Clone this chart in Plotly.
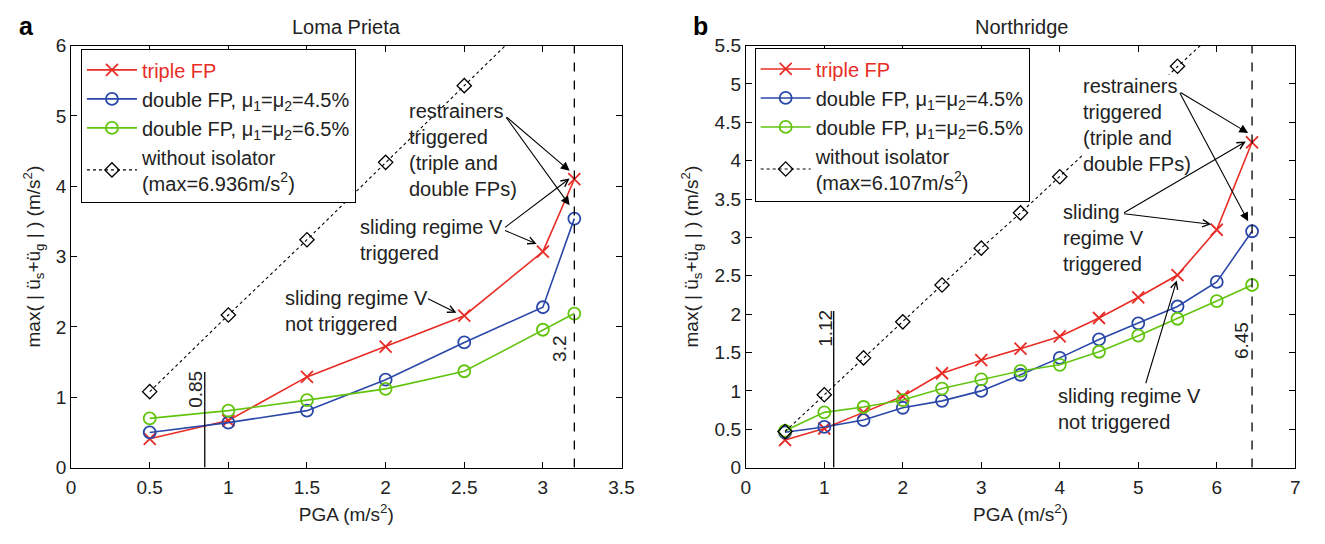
import plotly.graph_objects as go

# ---------------- data ----------------
pga_a = [0.5, 1.0, 1.5, 2.0, 2.5, 3.0, 3.2]
triple_a = [0.41, 0.67, 1.29, 1.72, 2.16, 3.07, 4.10]
double45_a = [0.50, 0.64, 0.81, 1.25, 1.78, 2.28, 3.54]
double65_a = [0.70, 0.81, 0.96, 1.12, 1.37, 1.96, 2.19]
noiso_a = [1.08, 2.17, 3.24, 4.34, 5.43, 6.52, 6.936]

pga_b = [0.5, 1.0, 1.5, 2.0, 2.5, 3.0, 3.5, 4.0, 4.5, 5.0, 5.5, 6.0, 6.45]
triple_b = [0.36, 0.51, 0.72, 0.93, 1.23, 1.40, 1.55, 1.71, 1.95, 2.22, 2.51, 3.10, 4.24]
double45_b = [0.46, 0.53, 0.62, 0.78, 0.87, 1.00, 1.21, 1.43, 1.67, 1.88, 2.10, 2.42, 3.08]
double65_b = [0.48, 0.72, 0.79, 0.88, 1.03, 1.15, 1.26, 1.34, 1.51, 1.72, 1.94, 2.17, 2.38]
noiso_b = [0.47, 0.95, 1.43, 1.90, 2.38, 2.86, 3.32, 3.79, 4.27, 4.75, 5.23, 5.70, 6.107]

threshold_a = [0.85, 3.2]
threshold_b = [1.12, 6.45]
threshold_a_height = 1.36
threshold_b_height = 2.04

xticks_a = [0, 0.5, 1, 1.5, 2, 2.5, 3, 3.5]
yticks_a = [0, 1, 2, 3, 4, 5, 6]
xticks_b = [0, 1, 2, 3, 4, 5, 6, 7]
yticks_b = [0, 0.5, 1, 1.5, 2, 2.5, 3, 3.5, 4, 4.5, 5, 5.5]

# ---------------- style ----------------
RED = "rgb(232,45,38)"
BLUE = "rgb(42,72,168)"
GREEN = "rgb(98,196,14)"
FONT = "Liberation Sans, Arial, sans-serif"
TXT = "#222222"
FS = 20
FT = 19
W, H = 1325, 544

names = ["<span style='color:%s'>triple FP</span>" % RED,
         "double FP, \u03bc<sub>1</sub>=\u03bc<sub>2</sub>=4.5%",
         "double FP, \u03bc<sub>1</sub>=\u03bc<sub>2</sub>=6.5%"]
noiso_name_a = "without isolator<br>(max=6.936m/s<sup>2</sup>)"
noiso_name_b = "without isolator<br>(max=6.107m/s<sup>2</sup>)"

fig = go.Figure()


def add_series(x, ys, noiso, noiso_name, xa, ya, legend):
    styles = [(RED, "x-thin-open", 12), (BLUE, "circle-open", 12), (GREEN, "circle-open", 12)]
    for (c, sym, sz), y, nm in zip(styles, ys, names):
        fig.add_trace(go.Scatter(
            x=x, y=y, name=nm, mode="lines+markers",
            line=dict(color=c, width=1.6),
            marker=dict(symbol=sym, size=sz, color=c, line=dict(color=c, width=1.8)),
            xaxis=xa, yaxis=ya, legend=legend, cliponaxis=True))
    fig.add_trace(go.Scatter(
        x=x, y=noiso, name=noiso_name, mode="lines+markers",
        line=dict(color="black", width=1.1, dash="dot"),
        marker=dict(symbol="diamond-open", size=11, color="black", line=dict(color="black", width=1.3)),
        xaxis=xa, yaxis=ya, legend=legend, cliponaxis=True))


add_series(pga_a, [triple_a, double45_a, double65_a], noiso_a, noiso_name_a, "x", "y", "legend")
add_series(pga_b, [triple_b, double45_b, double65_b], noiso_b, noiso_name_b, "x2", "y2", "legend2")

# threshold lines
fig.add_shape(type="line", x0=threshold_a[0], x1=threshold_a[0], y0=0, y1=threshold_a_height,
              xref="x", yref="y", line=dict(color="black", width=1.3))
fig.add_shape(type="line", x0=threshold_a[1], x1=threshold_a[1], y0=0, y1=6,
              xref="x", yref="y", line=dict(color="black", width=1.3, dash="dash"))
fig.add_shape(type="line", x0=threshold_b[0], x1=threshold_b[0], y0=0, y1=threshold_b_height,
              xref="x2", yref="y2", line=dict(color="black", width=1.3))
fig.add_shape(type="line", x0=threshold_b[1], x1=threshold_b[1], y0=0, y1=5.5,
              xref="x2", yref="y2", line=dict(color="black", width=1.3, dash="dash"))

ann = []


def label(text, x, y, xr, yr, angle=0, xanchor="left", yanchor="middle", bg=None, pad=0, size=FS):
    d = dict(text=text, x=x, y=y, xref=xr, yref=yr, showarrow=False, textangle=angle,
             xanchor=xanchor, yanchor=yanchor, align="left",
             font=dict(family=FONT, size=size, color=TXT), borderpad=pad)
    if bg:
        d["bgcolor"] = bg
    ann.append(d)


def arrow(tail, head, xr, yr, head_style):
    ann.append(dict(text="", x=head[0], y=head[1], ax=tail[0], ay=tail[1],
                    xref=xr, yref=yr, axref=xr, ayref=yr, showarrow=True,
                    arrowhead=head_style, arrowsize=1.6 if head_style == 2 else 1.3,
                    arrowwidth=1.1, arrowcolor="black", standoff=0, startstandoff=0))


# threshold labels
label(str(threshold_a[0]), 0.79, 1.11, "x", "y", angle=-90, xanchor="center", size=FT)
label(str(threshold_a[1]), 3.11, 1.69, "x", "y", angle=-90, xanchor="center", size=FT)
label(str(threshold_b[0]), 1.02, 1.82, "x2", "y2", angle=-90, xanchor="center", size=FT)
label(str(threshold_b[1]), 6.31, 1.65, "x2", "y2", angle=-90, xanchor="center", size=FT)

# panel a annotations
label("restrainers<br>triggered<br>(triple and<br>double FPs)", 2.14, 4.52, "x", "y")
label("sliding regime V<br>triggered", 1.83, 3.23, "x", "y")
label("sliding regime V<br>not triggered", 1.355, 2.23, "x", "y")
arrow((2.76, 5.00), (3.17, 4.22), "x", "y", 2)
arrow((2.76, 5.00), (3.17, 3.73), "x", "y", 2)
arrow((2.75, 3.40), (3.17, 4.11), "x", "y", 5)
arrow((2.75, 3.38), (2.96, 3.18), "x", "y", 5)
arrow((2.26, 2.41), (2.45, 2.20), "x", "y", 5)

# panel b annotations
label("restrainers<br>triggered<br>(triple and<br>double FPs)", 4.28, 4.47, "x2", "y2", bg="white", pad=0)
label("sliding<br>regime V<br>triggered", 4.03, 2.99, "x2", "y2")
label("sliding regime V<br>not triggered", 3.96, 0.76, "x2", "y2")
arrow((5.52, 4.90), (6.40, 4.36), "x2", "y2", 2)
arrow((5.52, 4.90), (6.40, 3.21), "x2", "y2", 2)
arrow((4.80, 3.31), (6.37, 4.25), "x2", "y2", 5)
arrow((4.80, 3.31), (5.93, 3.17), "x2", "y2", 5)
arrow((5.09, 1.08), (5.49, 2.44), "x2", "y2", 5)

# titles and panel letters
ann.append(dict(text="Loma Prieta", x=346 / W, y=1 - 18 / H, xref="paper", yref="paper",
                showarrow=False, xanchor="center", yanchor="middle",
                font=dict(family=FONT, size=FS, color=TXT)))
ann.append(dict(text="Northridge", x=1030 / W, y=1 - 18 / H, xref="paper", yref="paper",
                showarrow=False, xanchor="center", yanchor="middle",
                font=dict(family=FONT, size=FS, color=TXT)))
ann.append(dict(text="<b>a</b>", x=22 / W, y=1 - 17 / H, xref="paper", yref="paper",
                showarrow=False, xanchor="center", yanchor="middle",
                font=dict(family=FONT, size=25, color="black")))
ann.append(dict(text="<b>b</b>", x=705 / W, y=1 - 17 / H, xref="paper", yref="paper",
                showarrow=False, xanchor="center", yanchor="middle",
                font=dict(family=FONT, size=25, color="black")))

ytitle = "max( | \u00fc<sub>s</sub>+\u00fc<sub>g</sub> | ) (m/s<sup>2</sup>)"
xtitle = "PGA (m/s<sup>2</sup>)"

axis_common = dict(showgrid=False, zeroline=False, showline=True, linecolor="black", linewidth=1,
                   mirror="allticks", ticks="inside", ticklen=6, tickcolor="black",
                   tickfont=dict(family=FONT, size=FT, color=TXT))

ydom = [(H - 476) / H, (H - 37) / H]
fig.update_layout(
    width=W, height=H, margin=dict(l=0, r=0, t=0, b=0),
    paper_bgcolor="white", plot_bgcolor="white",
    font=dict(family=FONT, size=FS, color=TXT),
    xaxis=dict(domain=[67 / W, 625 / W], range=[0, 3.5], tickvals=xticks_a, ticklabelstandoff=3,
               title=dict(text=xtitle, font=dict(size=FT), standoff=10), anchor="y", **axis_common),
    yaxis=dict(domain=ydom, range=[0, 6], tickvals=yticks_a,
               title=dict(text=ytitle, font=dict(size=FT), standoff=10), anchor="x", **axis_common),
    xaxis2=dict(domain=[751 / W, 1308 / W], range=[0, 7], tickvals=xticks_b, ticklabelstandoff=3,
                title=dict(text=xtitle, font=dict(size=FT), standoff=10), anchor="y2", **axis_common),
    yaxis2=dict(domain=ydom, range=[0, 5.5], tickvals=yticks_b,
                title=dict(text=ytitle, font=dict(size=FT), standoff=10), anchor="x2", **axis_common),
    legend=dict(x=77 / W, y=1 - 41 / H, xanchor="left", yanchor="top",
                bgcolor="white", bordercolor="black", borderwidth=1,
                font=dict(family=FONT, size=FS, color=TXT), itemwidth=50, tracegroupgap=0),
    legend2=dict(x=760 / W, y=1 - 40 / H, xanchor="left", yanchor="top",
                 bgcolor="white", bordercolor="black", borderwidth=1,
                 font=dict(family=FONT, size=FS, color=TXT), itemwidth=50, tracegroupgap=0),
    annotations=ann,
    showlegend=True,
)

fig.write_html("out.html")
